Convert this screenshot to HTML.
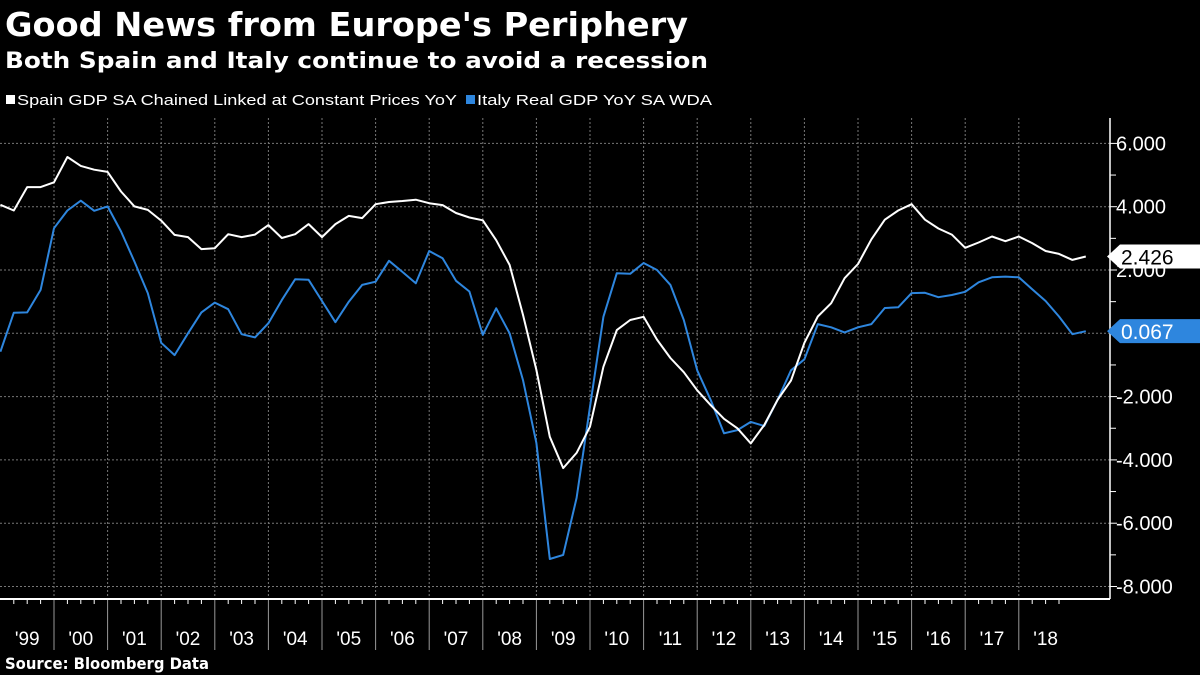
<!DOCTYPE html>
<html><head><meta charset="utf-8"><style>
html,body{margin:0;padding:0;background:#000;}
svg{display:block;font-family:"Liberation Sans","DejaVu Sans",sans-serif;}
</style></head><body>
<svg id="chart" width="1200" height="675" viewBox="0 0 1200 675" xmlns="http://www.w3.org/2000/svg">
<rect width="1200" height="675" fill="#000"/>
<text x="5" y="36" fill="#fff" font-family="DejaVu Sans" font-weight="bold" font-size="33" textLength="683" lengthAdjust="spacingAndGlyphs">Good News from Europe's Periphery</text>
<text x="5" y="68" fill="#fff" font-family="DejaVu Sans" font-weight="bold" font-size="22" textLength="703" lengthAdjust="spacingAndGlyphs">Both Spain and Italy continue to avoid a recession</text>
<g>
<rect x="6" y="95" width="9" height="9" fill="#fff"/>
<text x="17" y="105" fill="#fff" font-size="15" textLength="440" lengthAdjust="spacingAndGlyphs">Spain GDP SA Chained Linked at Constant Prices YoY</text>
<rect x="466" y="95" width="9" height="9" fill="#2e86de"/>
<text x="477" y="105" fill="#fff" font-size="15" textLength="235" lengthAdjust="spacingAndGlyphs">Italy Real GDP YoY SA WDA</text>
</g>
<g id="grid"></g><g id="axes"></g><g id="series"></g>
<text x="5" y="669" fill="#fff" font-family="DejaVu Sans" font-weight="bold" font-size="16" textLength="204" lengthAdjust="spacingAndGlyphs">Source: Bloomberg Data</text>
</svg>
<script>
const years = ["'99","'00","'01","'02","'03","'04","'05","'06","'07","'08","'09","'10","'11","'12","'13","'14","'15","'16","'17","'18"];
const yTicks = [6,4,2,0,-2,-4,-6,-8];
const yTickLabels = ["6.000","4.000","2.000","","-2.000","-4.000","-6.000","-8.000"];
const spain = [4.06,3.88,4.62,4.62,4.77,5.57,5.29,5.17,5.10,4.48,4.01,3.90,3.56,3.11,3.04,2.66,2.69,3.13,3.04,3.12,3.42,3.01,3.13,3.45,3.04,3.45,3.71,3.64,4.08,4.15,4.18,4.22,4.11,4.05,3.80,3.66,3.57,2.94,2.16,0.58,-1.16,-3.27,-4.26,-3.78,-2.95,-1.06,0.1,0.42,0.52,-0.2,-0.78,-1.23,-1.8,-2.27,-2.7,-3.0,-3.48,-2.9,-2.1,-1.49,-0.3,0.53,0.95,1.74,2.19,2.97,3.59,3.88,4.08,3.59,3.31,3.12,2.70,2.87,3.06,2.91,3.06,2.85,2.60,2.51,2.32,2.426];
const italy = [-0.58,0.65,0.66,1.37,3.32,3.88,4.19,3.87,4.01,3.22,2.27,1.27,-0.30,-0.69,0.0,0.66,0.97,0.76,-0.03,-0.13,0.32,1.05,1.71,1.69,1.02,0.35,1.00,1.53,1.63,2.29,1.94,1.58,2.60,2.37,1.66,1.32,-0.05,0.79,0.0,-1.48,-3.47,-7.13,-7.0,-5.2,-2.32,0.52,1.9,1.88,2.22,2.0,1.53,0.42,-1.17,-2.1,-3.16,-3.06,-2.8,-2.93,-2.1,-1.17,-0.82,0.29,0.19,0.03,0.19,0.29,0.80,0.82,1.27,1.28,1.14,1.21,1.31,1.61,1.77,1.79,1.77,1.39,1.02,0.53,-0.03,0.067];
const NS="http://www.w3.org/2000/svg";
const X0=0.4, YEARW=53.6;
const xq = i => X0 + i*YEARW/4;
const xy = k => X0 + k*YEARW;
const yv = v => 333.3 - 31.65*v;
const AXX=1110, PLOT_TOP=118, PLOT_BOT=599;
function mk(tag, attrs, parent){const e=document.createElementNS(NS,tag);for(const k in attrs)e.setAttribute(k,attrs[k]);parent.appendChild(e);return e;}
const grid=document.getElementById('grid'), axes=document.getElementById('axes'), ser=document.getElementById('series');
for(let k=0;k<years.length;k++){
  if(k>0){
    const g=mk('line',{x1:xy(k),x2:xy(k),y1:PLOT_TOP,y2:PLOT_BOT,stroke:'#777','stroke-width':1,'stroke-dasharray':'2,2'},grid);
    
    
    const s=mk('line',{x1:xy(k),x2:xy(k),y1:PLOT_BOT,y2:650,stroke:'#999','stroke-width':1},axes);
    
    
  }
  for(let q=1;q<4;q++){
    const t=mk('line',{x1:xy(k)+q*YEARW/4,x2:xy(k)+q*YEARW/4,y1:PLOT_BOT,y2:PLOT_BOT+5,stroke:'#fff','stroke-width':1},axes);
    
    
  }
  const lb=mk('text',{x:xy(k)+YEARW/2,y:645,fill:'#fff','font-size':19,'text-anchor':'middle'},axes);
  lb.textContent=years[k];
  
  
}
for(let i=0;i<yTicks.length;i++){
  const y=yv(yTicks[i]);
  const g=mk('line',{x1:0,x2:AXX,y1:y,y2:y,stroke:'#777','stroke-width':1,'stroke-dasharray':'2,2'},grid);
  
  
  const t=mk('line',{x1:AXX,x2:AXX+7,y1:y,y2:y,stroke:'#fff','stroke-width':1},axes);
  
  
  if(yTickLabels[i]){
    const lb=mk('text',{x:AXX+6,y:y+7,fill:'#fff','font-size':20},axes);
    lb.textContent=yTickLabels[i];
    
    
  }
  if(i<yTicks.length-1){
    const ym=yv(yTicks[i]-1);
    const m=mk('line',{x1:AXX,x2:AXX+6,y1:ym,y2:ym,stroke:'#fff','stroke-width':1},axes);
    
    
  }
}
const ax=mk('line',{x1:0,x2:AXX,y1:PLOT_BOT,y2:PLOT_BOT,stroke:'#fff','stroke-width':2},axes);


const ay=mk('line',{x1:AXX,x2:AXX,y1:PLOT_TOP,y2:PLOT_BOT,stroke:'#fff','stroke-width':1.5},axes);


function line(data,color,name){
  const p=mk('polyline',{points:data.map((v,i)=>xq(i).toFixed(1)+','+yv(v).toFixed(1)).join(' '),fill:'none',stroke:color,'stroke-width':2,'stroke-linejoin':'round'},ser);
  
  
}
line(italy,'#2e86de','italy-line');
line(spain,'#ffffff','spain-line');
function tag(v,bg,fg,name){
  const y=yv(v);
  const g=mk('g',{},ser);
  
  
  mk('polygon',{points:`${AXX-3},${y} ${AXX+10},${y-12} 1200,${y-12} 1200,${y+12} ${AXX+10},${y+12}`,fill:bg},g);
  const t=mk('text',{x:AXX+11,y:y+8,fill:fg,'font-size':21},g);
  t.textContent=v.toFixed(3);
}
tag(spain[spain.length-1],'#fff','#000','spain-last-value-tag');
tag(italy[italy.length-1],'#2e86de','#fff','italy-last-value-tag');
</script>
</body></html>
